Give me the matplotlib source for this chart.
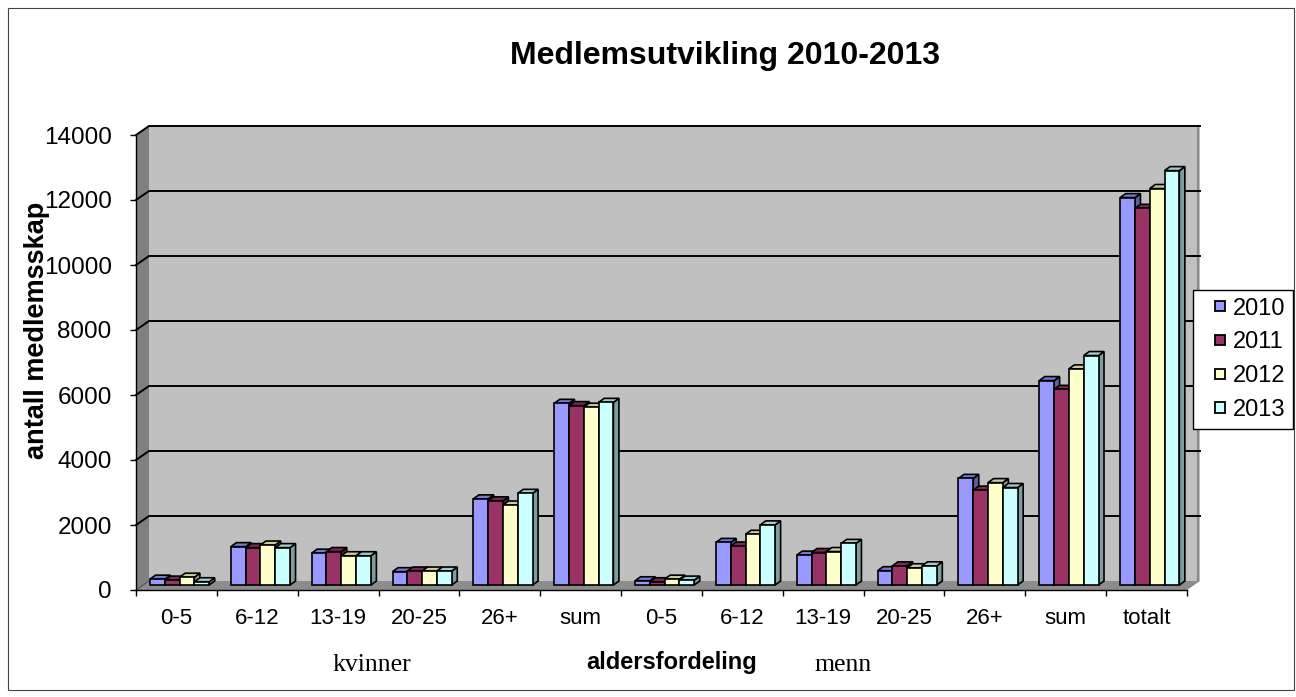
import matplotlib
matplotlib.use("Agg")
import matplotlib.pyplot as plt
from matplotlib.patches import Rectangle, Polygon, Patch
from matplotlib.legend_handler import HandlerPatch
import numpy as np

categories = ["0-5", "6-12", "13-19", "20-25", "26+", "sum",
              "0-5", "6-12", "13-19", "20-25", "26+", "sum", "totalt"]
years = ["2010", "2011", "2012", "2013"]
v2010 = [180, 1180, 980, 410, 2650, 5590, 130, 1310, 920, 440, 3280, 6290, 11920]
v2011 = [150, 1150, 1030, 430, 2590, 5520, 100, 1200, 1000, 590, 2920, 6020, 11590]
v2012 = [240, 1230, 900, 430, 2460, 5470, 180, 1560, 1030, 530, 3150, 6650, 12200]
v2013 = [100, 1150, 900, 430, 2820, 5620, 150, 1850, 1280, 590, 3000, 7060, 12750]
series = [v2010, v2011, v2012, v2013]
colors = ["#9999FF", "#993366", "#FFFFCC", "#CCFFFF"]
yticks = list(range(0, 14001, 2000))

plt.rcParams['font.family'] = ['Liberation Sans', 'DejaVu Sans']

W, H = 1296, 697
fig = plt.figure(figsize=(W / 100, H / 100), dpi=100)

# front frame in pixels
x0, x1 = 136, 1187
y0, y1 = 590, 135
ax = fig.add_axes([x0 / W, 1 - y0 / H, (x1 - x0) / W, (y0 - y1) / H])
n = len(categories)
ymax = 14000
ax.set_xlim(0, n)
ax.set_ylim(0, ymax)
ax.patch.set_visible(False)

px_x = n / (x1 - x0)
px_y = ymax / (y0 - y1)


def dx(p):
    return p * px_x


def dy(p):
    return p * px_y


def shade(c, f):
    r, g, b = matplotlib.colors.to_rgb(c)
    return (r * f, g * f, b * f)


bx, by = dx(13), dy(9)

# floor
ax.add_patch(Polygon([(0, 0), (n, 0), (n + bx, by), (bx, by)], closed=True,
                     facecolor="#8c8c8c", edgecolor="none", zorder=1, clip_on=False))
# left wall
ax.add_patch(Polygon([(0, 0), (bx, by), (bx, ymax + by), (0, ymax)], closed=True,
                     facecolor="#808080", edgecolor="none", zorder=1, clip_on=False))
# back wall
ax.add_patch(Rectangle((bx, by), n, ymax, facecolor="#c0c0c0", edgecolor="none",
                       zorder=1, clip_on=False))
ax.plot([n + bx - dx(2), n + bx - dx(2)], [by, ymax + by], color="#8a8a8a", lw=1.5,
        zorder=1.5, clip_on=False)
# gridlines
for v in yticks[1:]:
    ax.plot([0, bx, n + bx], [v, v + by, v + by], color="black", lw=1.4,
            zorder=2, clip_on=False, solid_joinstyle="miter")
ax.plot([0, bx], [0, by], color="#555555", lw=0.8, zorder=2, clip_on=False)

# bars
bw = dx(14.8)
start = dx(14.0)
base = dy(5)
ddx, ddy = dx(5.5), dy(4)
for g in range(n):
    for i, vals in enumerate(series):
        v = vals[g]
        x = g + start + i * bw
        top = base + v
        c = colors[i]
        z = 3 + g * 0.01 + i * 0.001
        ax.add_patch(Polygon([(x + bw, base), (x + bw + ddx, base + ddy),
                              (x + bw + ddx, top + ddy), (x + bw, top)], closed=True,
                             facecolor=shade(c, 0.62), edgecolor="black", lw=1.2,
                             zorder=z, clip_on=False, joinstyle="miter"))
        ax.add_patch(Polygon([(x, top), (x + bw, top), (x + bw + ddx, top + ddy),
                              (x + ddx, top + ddy)], closed=True,
                             facecolor=shade(c, 0.8), edgecolor="black", lw=1.2,
                             zorder=z, clip_on=False, joinstyle="miter"))
        ax.add_patch(Rectangle((x, base), bw, v, facecolor=c, edgecolor="black",
                               lw=1.2, zorder=z, clip_on=False, joinstyle="miter"))

# spines & ticks
for s in ["top", "right"]:
    ax.spines[s].set_visible(False)
for s in ["left", "bottom"]:
    ax.spines[s].set_color("black")
    ax.spines[s].set_linewidth(1.0)
    ax.spines[s].set_zorder(5)
ax.set_yticks(yticks)
ax.set_yticklabels([str(t) for t in yticks])
ax.tick_params(axis="y", direction="out", length=4.5, width=1, pad=13, labelsize=17.5)
ax.set_xticks(range(n + 1))
ax.set_xticklabels([])
ax.set_xticks(np.arange(n) + 0.5, minor=True)
ax.set_xticklabels(categories, minor=True)
ax.tick_params(axis="x", which="major", direction="out", length=4.5, width=1)
ax.tick_params(axis="x", which="minor", length=0, pad=13, labelsize=16)

# texts
fig.text(725 / W, 1 - 56 / H, "Medlemsutvikling 2010-2013", ha="center", va="center",
         fontsize=23, fontweight="bold")
fig.text(37 / W, 1 - 330 / H, "antall medlemsskap", ha="center", va="center",
         rotation=90, fontsize=19.5, fontweight="bold")
fig.text(672 / W, 1 - 662 / H, "aldersfordeling", ha="center", va="center",
         fontsize=17, fontweight="bold")
fig.text(372 / W, 1 - 665 / H, "kvinner", ha="center", va="center", fontsize=18.5,
         family=["Liberation Serif", "DejaVu Serif"])
fig.text(843 / W, 1 - 665 / H, "menn", ha="center", va="center", fontsize=18.5,
         family=["Liberation Serif", "DejaVu Serif"])


# legend
def small_square(legend, orig_handle, xdescent, ydescent, width, height, fontsize):
    s = 7.5
    return Rectangle((width - s - xdescent, (height - s) / 2 - ydescent), s, s)


handles = [Patch(facecolor=c, edgecolor="black", lw=1.3, label=y) for c, y in zip(colors, years)]
leg = fig.legend(handles=handles, loc="upper left", bbox_to_anchor=(1193 / W, 1 - 290 / H),
                 frameon=True, fancybox=False, edgecolor="black", fontsize=17,
                 handlelength=1.05, handleheight=0.7, handletextpad=0.34,
                 labelspacing=0.5, borderpad=0.32, framealpha=1, borderaxespad=0,
                 handler_map={Patch: HandlerPatch(patch_func=small_square)})
leg.get_frame().set_linewidth(1.0)

# outer border
fig.add_artist(Rectangle((8 / W, 1 - 690 / H), (1294 - 8) / W, (690 - 8) / H,
                         transform=fig.transFigure, fill=False, edgecolor="#444444", lw=0.8))

fig.savefig("out.png", dpi=100)
